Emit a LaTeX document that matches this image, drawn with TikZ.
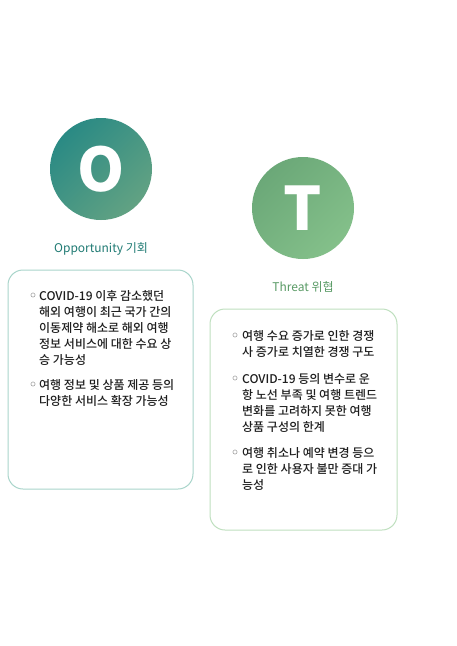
\documentclass[tikz,border=0pt]{standalone}
\usepackage{fontspec}
\setmainfont{Noto Sans CJK KR}[UprightFont={* Medium}]
\newfontfamily\captionfont{Noto Sans CJK KR}
\definecolor{teal1}{HTML}{2A8A84}
\definecolor{teal2}{HTML}{62A283}
\definecolor{green1}{HTML}{6BA878}
\definecolor{green2}{HTML}{84C08A}
\definecolor{tealtxt}{HTML}{1F7A73}
\definecolor{greentxt}{HTML}{5A9B66}
\definecolor{tealline}{HTML}{A9D5CB}
\definecolor{greenline}{HTML}{BFE0BF}
\definecolor{bodytxt}{HTML}{1E1E1E}
\begin{document}
\begin{tikzpicture}[
    x=1pt, y=-1pt,
    badge/.style={circle, minimum size=102pt, inner sep=0pt, text=white,
      font=\fontsize{60}{60}\selectfont\bfseries},
    caption/.style={font=\captionfont\fontsize{12}{14}\selectfont},
    card/.style={rounded corners=15pt, line width=1pt},
    dot/.style={circle, draw=gray!80, line width=0.5pt, minimum size=4.2pt, inner sep=0pt},
    item/.style={anchor=north west, inner sep=0pt, align=left, text=bodytxt,
      font=\fontsize{12}{16}\selectfont}
  ]
  \useasboundingbox[fill=white] (0,0) rectangle (457,646);

  % opportunity
  \node[badge, top color=teal1, bottom color=teal2, shading angle=45] (opp) at (101,169) {O};
  \node[caption, text=tealtxt] (opplabel) at (101,249) {Opportunity 기회};
  \draw[card, draw=tealline] (8,270) rectangle (193,489);
  \node[dot] (od1) at (33,295) {};
  \node[item] (oi1) at (39,290) {COVID-19 이후 감소했던\\해외 여행이 최근 국가 간의\\이동제약 해소로 해외 여행\\정보 서비스에 대한 수요 상\\승 가능성};
  \node[dot] (od2) at (33,384) {};
  \node[item] (oi2) at (39,379) {여행 정보 및 상품 제공 등의\\다양한 서비스 확장 가능성};

  % threat
  \node[badge, top color=green1, bottom color=green2, shading angle=45] (thr) at (303,208) {T};
  \node[caption, text=greentxt] (thrlabel) at (303,287) {Threat 위협};
  \draw[card, draw=greenline] (210,309) rectangle (397,530);
  \node[dot] (td1) at (235,335) {};
  \node[item] (ti1) at (242,330) {여행 수요 증가로 인한 경쟁\\사 증가로 치열한 경쟁 구도};
  \node[dot] (td2) at (235,378) {};
  \node[item] (ti2) at (242,373) {COVID-19 등의 변수로 운\\항 노선 부족 및 여행 트렌드\\변화를 고려하지 못한 여행\\상품 구성의 한계};
  \node[dot] (td3) at (235,452) {};
  \node[item] (ti3) at (242,447) {여행 취소나 예약 변경 등으\\로 인한 사용자 불만 증대 가\\능성};
\end{tikzpicture}
\end{document}
